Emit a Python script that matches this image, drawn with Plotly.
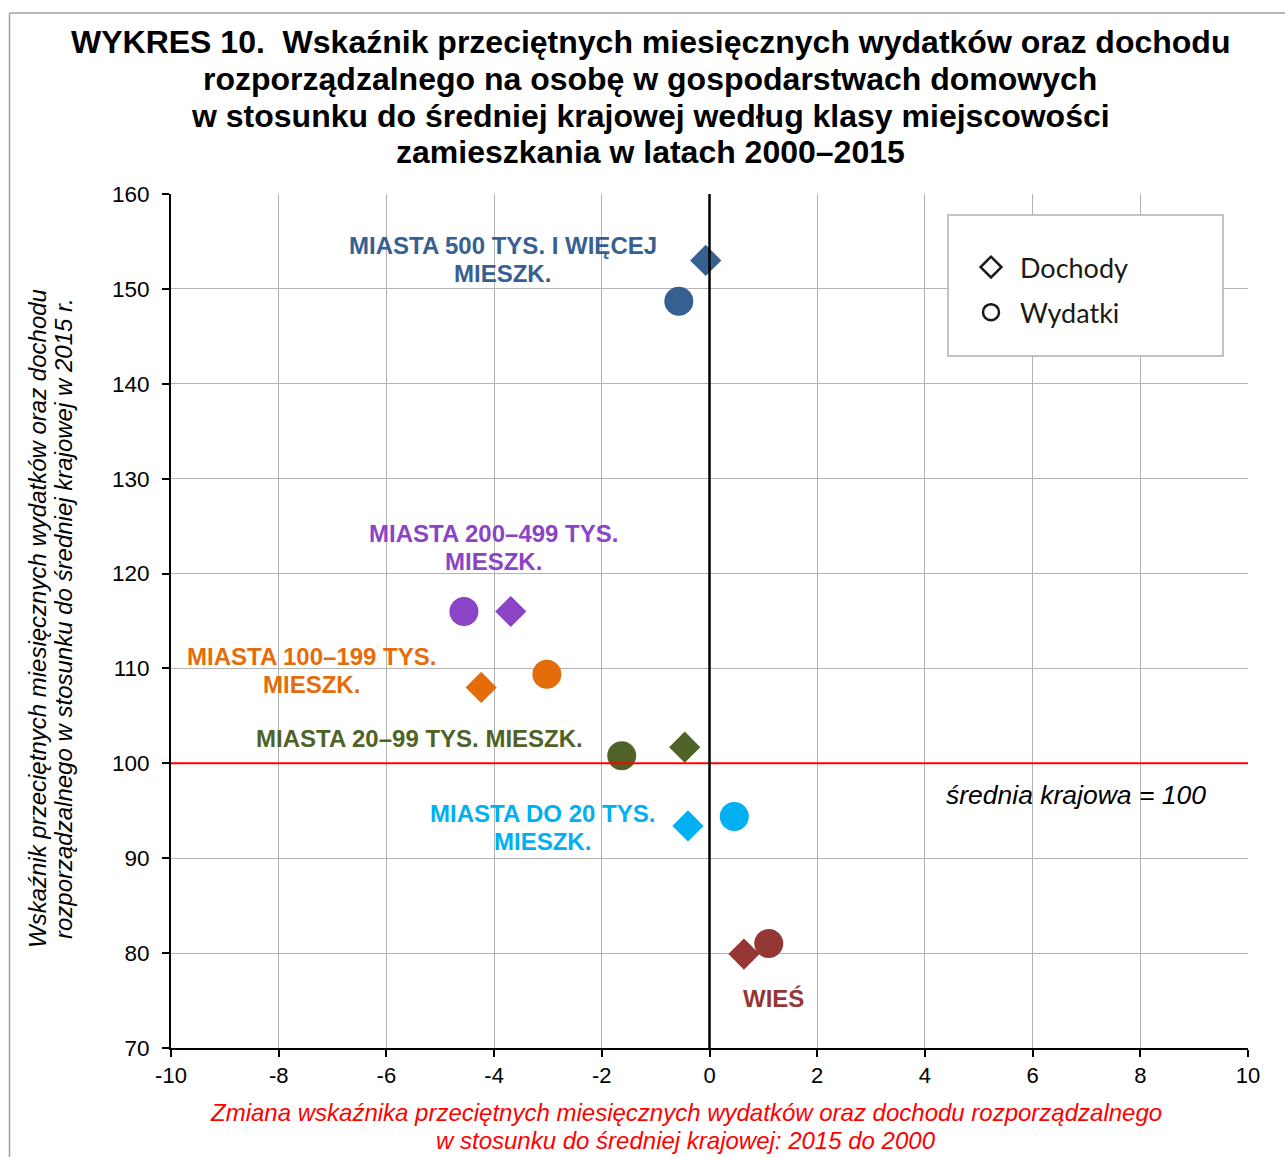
import plotly.graph_objects as go

# ---- data ----
categories = ["MIASTA 500 TYS. I WIĘCEJ MIESZK.", "MIASTA 200–499 TYS. MIESZK.",
              "MIASTA 100–199 TYS. MIESZK.", "MIASTA 20–99 TYS. MIESZK.",
              "MIASTA DO 20 TYS. MIESZK.", "WIEŚ"]
colors = ["#376092", "#8C44C6", "#E46C0A", "#4F6228", "#00B0F0", "#953735"]

dochody_x = [-0.07, -3.69, -4.24, -0.46, -0.40, 0.64]
dochody_y = [153.0, 116.0, 108.0, 101.7, 93.4, 79.9]
wydatki_x = [-0.57, -4.56, -3.02, -1.63, 0.46, 1.10]
wydatki_y = [148.7, 116.0, 109.4, 100.8, 94.4, 81.0]

label_text = ["MIASTA 500 TYS. I WIĘCEJ<br>MIESZK.", "MIASTA 200–499 TYS.<br>MIESZK.",
              "MIASTA 100–199 TYS.<br>MIESZK.", "MIASTA 20–99 TYS. MIESZK.",
              "MIASTA DO 20 TYS.<br>MIESZK.", "WIEŚ"]
label_x = [-3.84, -4.02, -7.40, -5.38, -3.11, 1.18]
label_y = [153.1, 122.7, 109.8, 102.6, 93.2, 75.2]

x_ticks = [-10, -8, -6, -4, -2, 0, 2, 4, 6, 8, 10]
y_ticks = [70, 80, 90, 100, 110, 120, 130, 140, 150, 160]

title_lines = ["WYKRES 10.  Wskaźnik przeciętnych miesięcznych wydatków oraz dochodu",
               "rozporządzalnego na osobę w gospodarstwach domowych",
               "w stosunku do średniej krajowej według klasy miejscowości",
               "zamieszkania w latach 2000–2015"]
x_title_lines = ["Zmiana wskaźnika przeciętnych miesięcznych wydatków oraz dochodu rozporządzalnego",
                 "w stosunku do średniej krajowej: 2015 do 2000"]
y_title_lines = ["Wskaźnik przeciętnych miesięcznych wydatków oraz dochodu",
                 "rozporządzalnego w stosunku do średniej krajowej w 2015 r."]

FONT = "Arial"
L, R, T, B = 171, 37, 194, 109
PW, PH = 1285 - L - R, 1157 - T - B
Y_PER_PX = 90 / PH


def px_x(p):
    return (p - L) / PW


def px_y(p):
    return (1157 - B - p) / PH


fig = go.Figure()

for i, cat in enumerate(categories):
    fig.add_trace(go.Scatter(x=[dochody_x[i]], y=[dochody_y[i]], mode="markers",
                             marker=dict(symbol="diamond", size=24, color=colors[i]),
                             showlegend=False, name=cat + " – Dochody",
                             hoverinfo="x+y+name"))
    fig.add_trace(go.Scatter(x=[wydatki_x[i]], y=[wydatki_y[i]], mode="markers",
                             marker=dict(symbol="circle", size=29, color=colors[i]),
                             showlegend=False, name=cat + " – Wydatki",
                             hoverinfo="x+y+name"))

# legend entries
fig.add_trace(go.Scatter(x=[None], y=[None], mode="markers", name="Dochody",
                         legendgroup="d",
                         marker=dict(symbol="diamond-open", size=16, color="#1a1a14",
                                     line=dict(width=2.5, color="#1a1a14"))))
fig.add_trace(go.Scatter(x=[None], y=[None], mode="markers", name="Wydatki",
                         legendgroup="w",
                         marker=dict(symbol="circle-open", size=16, color="#1a1a14",
                                     line=dict(width=2.5, color="#1a1a14"))))

annotations = []
LINE_GAP = 28  # px between label lines
for i in range(len(categories)):
    lines = label_text[i].split("<br>")
    n = len(lines)
    for k, line in enumerate(lines):
        off = (k - (n - 1) / 2) * LINE_GAP
        annotations.append(dict(x=label_x[i], y=label_y[i] - off * Y_PER_PX, xref="x", yref="y",
                                text="<b>" + line + "</b>", showarrow=False,
                                font=dict(family=FONT, size=24, color=colors[i]),
                                align="center", xanchor="center", yanchor="middle"))
annotations.append(dict(x=6.81, y=96.7, xref="x", yref="y", text="<i>średnia krajowa = 100</i>",
                        showarrow=False, font=dict(family=FONT, size=26.5, color="black")))
for k, (line, ypx) in enumerate(zip(x_title_lines, [1112, 1140])):
    annotations.append(dict(x=px_x(686), y=px_y(ypx), xref="paper", yref="paper",
                            text="<i>" + line + "</i>", showarrow=False,
                            xanchor="center", yanchor="middle", align="center",
                            font=dict(family=FONT, size=24, color="#FF0000")))
for k, (line, xpx) in enumerate(zip(y_title_lines, [37, 63])):
    annotations.append(dict(x=px_x(xpx), y=px_y(619), xref="paper", yref="paper",
                            text="<i>" + line + "</i>", showarrow=False, textangle=-90,
                            xanchor="center", yanchor="middle", align="center",
                            font=dict(family=FONT, size=24, color="black")))
for k, (line, ypx) in enumerate(zip(title_lines, [42, 79, 116, 152])):
    annotations.append(dict(x=px_x(650), y=px_y(ypx), xref="paper", yref="paper",
                            text="<b>" + line + "</b>", showarrow=False,
                            xanchor="center", yanchor="middle", align="center",
                            font=dict(family=FONT, size=32, color="black")))

fig.update_layout(
    width=1285, height=1157,
    margin=dict(l=L, r=R, t=T, b=B),
    paper_bgcolor="white", plot_bgcolor="white",
    font=dict(family=FONT, size=22, color="black"),
    xaxis=dict(range=[-10, 10], tickvals=x_ticks, ticktext=[str(v) for v in x_ticks],
               showgrid=True, gridcolor="#B3B3B3", gridwidth=1,
               zeroline=False, showline=True, linecolor="black", linewidth=2,
               ticks="outside", ticklen=7, tickwidth=2, tickcolor="black",
               tickfont=dict(family=FONT, size=22), fixedrange=True),
    yaxis=dict(range=[70, 160], tickvals=y_ticks, ticktext=[str(v) for v in y_ticks],
               showgrid=True, gridcolor="#B3B3B3", gridwidth=1,
               zeroline=False, showline=True, linecolor="black", linewidth=2,
               ticks="outside", ticklen=7, tickwidth=2, tickcolor="black",
               ticklabelstandoff=8,
               tickfont=dict(family=FONT, size=22.5), fixedrange=True),
    legend=dict(x=px_x(962), y=px_y(243), xanchor="left", yanchor="top",
                bgcolor="rgba(0,0,0,0)", borderwidth=0,
                font=dict(family="Lato", size=27, color="#1a1a14"),
                traceorder="grouped", tracegroupgap=7, itemwidth=48),
    annotations=annotations,
    showlegend=True,
)

# reference lines (drawn above markers as in the original)
fig.add_shape(type="line", xref="x domain", yref="y", x0=0, x1=1, y0=100, y1=100,
              line=dict(color="#FF0000", width=2), layer="above")
fig.add_shape(type="line", xref="x", yref="y domain", x0=0, x1=0, y0=0, y1=1,
              line=dict(color="black", width=2.5), layer="above")
# legend box
fig.add_shape(type="rect", xref="paper", yref="paper",
              x0=px_x(948), x1=px_x(1223), y0=px_y(356), y1=px_y(215),
              line=dict(color="#B0B0B0", width=1.5), fillcolor="white", layer="above")
# outer frame (left and top)
fig.add_shape(type="line", xref="paper", yref="paper",
              x0=px_x(9.5), x1=px_x(9.5), y0=px_y(13), y1=px_y(1160),
              line=dict(color="#A0A0A0", width=1.5))
fig.add_shape(type="line", xref="paper", yref="paper",
              x0=px_x(9.5), x1=px_x(1290), y0=px_y(13), y1=px_y(13),
              line=dict(color="#A0A0A0", width=1.5))

fig.write_html("out.html", config={"displayModeBar": False},
               post_script="document.body.style.margin='0px';")
